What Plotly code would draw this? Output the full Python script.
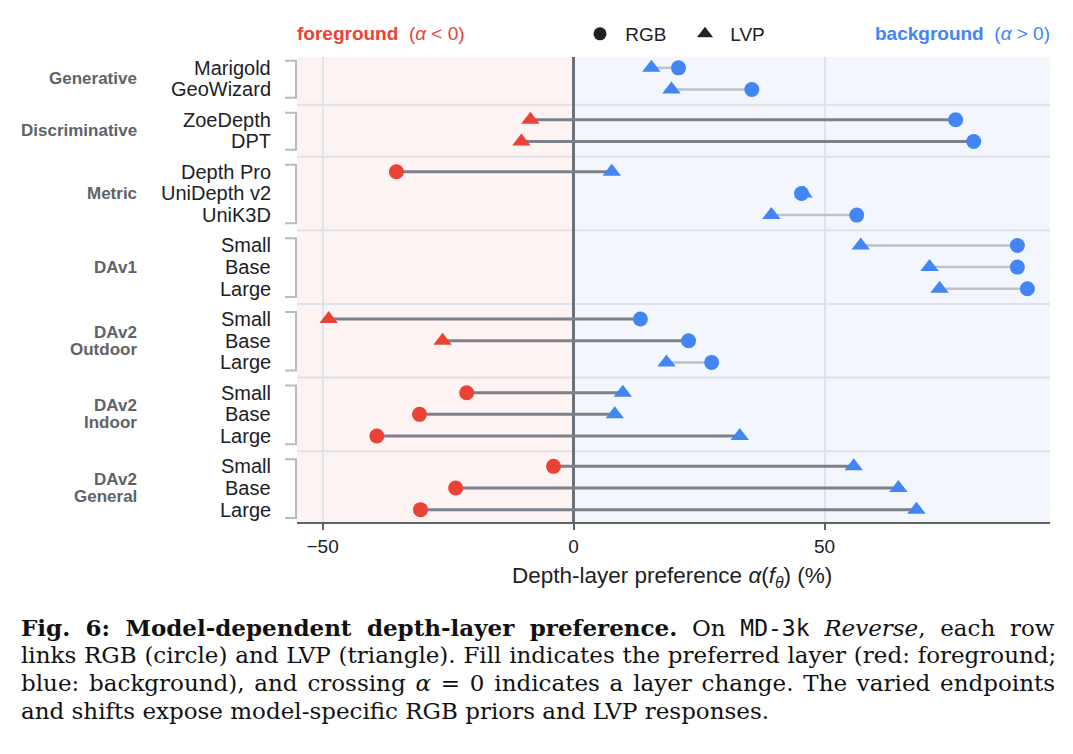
import plotly.graph_objects as go

# ---------------- data ----------------
groups = ["Generative", "Discriminative", "Metric", "DAv1",
          "DAv2<br>Outdoor", "DAv2<br>Indoor", "DAv2<br>General"]
group_models = [
    ["Marigold", "GeoWizard"],
    ["ZoeDepth", "DPT"],
    ["Depth Pro", "UniDepth v2", "UniK3D"],
    ["Small", "Base", "Large"],
    ["Small", "Base", "Large"],
    ["Small", "Base", "Large"],
    ["Small", "Base", "Large"],
]
rgb = [20.9, 35.5, 76.1, 79.7, -35.3, 45.4, 56.4, 88.4, 88.4, 90.4,
       13.3, 22.9, 27.5, -21.3, -30.7, -39.2, -4.0, -23.5, -30.5]
lvp = [15.5, 19.5, -8.6, -10.4, 7.6, 45.8, 39.4, 57.2, 70.9, 72.9,
       -48.8, -26.1, 18.5, 9.8, 8.2, 33.1, 55.8, 64.7, 68.3]
xticks = [-50, 0, 50]

# ---------------- style ----------------
RED = "#ea4335"
BLUE = "#4285f4"
DARK_LINE = "#7b808a"
LIGHT_LINE = "#bcc1ca"
SANS = "Liberation Sans, Arial, sans-serif"
SERIF = "DejaVu Serif, serif"
GROUP_GAP = 1.4

# y positions
ypos = []
group_spans = []
y = 0.0
for gi, models in enumerate(group_models):
    start = y
    for mi, _ in enumerate(models):
        ypos.append(y)
        y += 1
    group_spans.append((start, y - 1))
    y = y - 1 + GROUP_GAP

labels = [m for models in group_models for m in models]

fig = go.Figure()

# connecting lines
dx, dy, lx, ly = [], [], [], []
for r, l, yy in zip(rgb, lvp, ypos):
    if (r < 0) != (l < 0):
        dx += [r, l, None]; dy += [yy, yy, None]
    else:
        lx += [r, l, None]; ly += [yy, yy, None]
fig.add_trace(go.Scatter(x=lx, y=ly, mode="lines", line=dict(color=LIGHT_LINE, width=2.5),
                         showlegend=False, hoverinfo="skip"))
fig.add_trace(go.Scatter(x=dx, y=dy, mode="lines", line=dict(color=DARK_LINE, width=3),
                         showlegend=False, hoverinfo="skip"))

# markers
fig.add_trace(go.Scatter(x=lvp, y=ypos, mode="markers", showlegend=False,
                         marker=dict(symbol="triangle-up", size=16,
                                     color=[RED if v < 0 else BLUE for v in lvp],
                                     line=dict(width=0))))
fig.add_trace(go.Scatter(x=rgb, y=ypos, mode="markers", showlegend=False,
                         marker=dict(symbol="circle", size=15,
                                     color=[RED if v < 0 else BLUE for v in rgb],
                                     line=dict(width=0))))

# legend dummies
fig.add_trace(go.Scatter(x=[None], y=[None], mode="markers", name="\u00a0RGB",
                         marker=dict(symbol="circle", size=13, color="#222222")))
fig.add_trace(go.Scatter(x=[None], y=[None], mode="markers", name="\u00a0LVP",
                         marker=dict(symbol="triangle-up", size=14, color="#222222")))

XMIN, XMAX = -55.1, 94.9
shapes = []
# background halves
shapes.append(dict(type="rect", xref="x", yref="paper", x0=XMIN, x1=0, y0=0, y1=1,
                   fillcolor="#fdf3f2", line=dict(width=0), layer="below"))
shapes.append(dict(type="rect", xref="x", yref="paper", x0=0, x1=XMAX, y0=0, y1=1,
                   fillcolor="#f3f7fd", line=dict(width=0), layer="below"))
# group separators
for (s, e) in group_spans[:-1]:
    ys = e + GROUP_GAP / 2
    shapes.append(dict(type="line", xref="paper", yref="y", x0=0, x1=1, y0=ys, y1=ys,
                       line=dict(color="#dde1e9", width=2), layer="below"))
# brackets
bx1 = (285 - 297) / 753
bx2 = (296 - 297) / 753
for (s, e) in group_spans:
    shapes.append(dict(type="path", xref="paper", yref="y",
                       path=f"M {bx1},{s-0.33} L {bx2},{s-0.33} L {bx2},{e+0.38} L {bx1},{e+0.38}",
                       line=dict(color="#b5bcc8", width=2)))

annotations = []
# model labels
lab_x = (273 - 297) / 753
for lab, yy in zip(labels, ypos):
    annotations.append(dict(xref="paper", yref="y", x=lab_x, y=yy, text=lab,
                            xanchor="right", yanchor="middle", showarrow=False,
                            font=dict(family=SANS, size=20, color="#202124")))
# group labels
grp_x = (139 - 297) / 753
for g, (s, e) in zip(groups, group_spans):
    mid = (s + e) / 2
    parts = g.split("<br>")
    if len(parts) == 1:
        offs = [0.0]
    else:
        offs = [-0.39, 0.39]
    for p, o in zip(parts, offs):
        annotations.append(dict(xref="paper", yref="y", x=grp_x, y=mid + o, text=f"<b>{p}</b>",
                                xanchor="right", yanchor="middle", showarrow=False,
                                font=dict(family=SANS, size=17, color="#5f6368")))

# top labels
top_y = (522 - 34) / 465
annotations.append(dict(xref="paper", yref="paper", x=-0.003, y=top_y, xanchor="left", yanchor="middle",
                        showarrow=False,
                        text="<b>foreground</b>\u00a0\u00a0(<i>α</i>\u00a0&lt;\u00a00)",
                        font=dict(family=SANS, size=19, color=RED)))
annotations.append(dict(xref="paper", yref="paper", x=1.002, y=top_y, xanchor="right", yanchor="middle",
                        showarrow=False,
                        text="<b>background</b>\u00a0\u00a0(<i>α</i>\u00a0&gt;\u00a00)",
                        font=dict(family=SANS, size=19, color=BLUE)))

# x-axis title
annotations.append(dict(xref="paper", yref="paper", x=(672 - 297) / 753, y=(522 - 577) / 465,
                        xanchor="center", yanchor="middle", showarrow=False,
                        text="Depth-layer preference <i>α</i>(<i>f</i><sub><i>θ</i></sub>) (%)",
                        font=dict(family=SANS, size=22.5, color="#202124")))

# caption (justified via word spacing)
cap_lines = [
    "<b>Fig. 6: Model-dependent depth-layer preference.</b> On "
    "<span style=\"font-family:'DejaVu Sans Mono', monospace\">MD-3k</span> <i>Reverse</i>, each row",
    "links RGB (circle) and LVP (triangle). Fill indicates the preferred layer (red: foreground;",
    "blue: background), and crossing <i>α</i> = 0 indicates a layer change. The varied endpoints",
    "and shifts expose model-specific RGB priors and LVP responses.",
]
cap_wordspace = [7.4, 0.45, 2.5, 0.0]
cap_y = [627, 655, 683, 711]
for t, ws, py in zip(cap_lines, cap_wordspace, cap_y):
    annotations.append(dict(xref="paper", yref="paper", x=(19 - 297) / 753, y=(522 - py) / 465,
                            xanchor="left", yanchor="middle", showarrow=False,
                            text=f"<span style=\"word-spacing:{ws}px\">{t}</span>",
                            font=dict(family=SERIF, size=23, color="#111111")))

fig.update_layout(
    width=1073, height=754,
    margin=dict(l=297, r=23, t=57, b=232),
    paper_bgcolor="white", plot_bgcolor="white",
    shapes=shapes, annotations=annotations,
    showlegend=True,
    legend=dict(orientation="h", x=(580 - 297) / 753, y=top_y, xanchor="left", yanchor="middle",
                font=dict(family=SANS, size=19, color="#202124"), bgcolor="rgba(0,0,0,0)",
                itemwidth=30, entrywidth=60, entrywidthmode="pixels"),
    xaxis=dict(range=[XMIN, XMAX], tickvals=xticks, showgrid=True, gridcolor="#dfe3ea", gridwidth=1.5,
               zeroline=True, zerolinecolor="#6b7079", zerolinewidth=3,
               showline=True, linecolor="#5f6368", linewidth=2,
               ticks="outside", ticklen=6, tickwidth=2, tickcolor="#5f6368",
               tickfont=dict(family=SANS, size=19, color="#202124")),
    yaxis=dict(range=[20.97, -0.5], showgrid=False, zeroline=False, showticklabels=False,
               showline=False),
)

fig.write_html("out.html")
